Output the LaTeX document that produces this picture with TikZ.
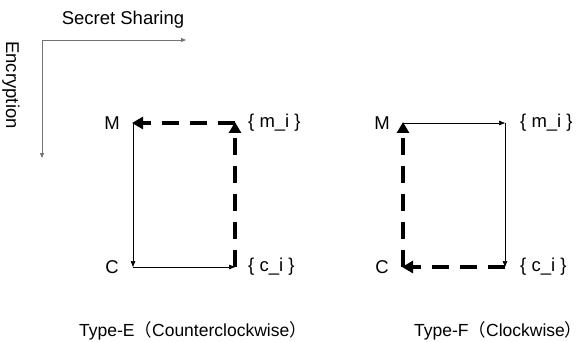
\documentclass[tikz,border=0pt]{standalone}
\usepackage{fontspec}
\setmainfont{Liberation Sans}
\newfontfamily\cjkfont{Noto Sans CJK SC}
\usetikzlibrary{arrows.meta}
% full-width parentheses; the closing one keeps only the width of its glyph
\newcommand{\fwopen}{{\cjkfont （}}
\newcommand{\fwclose}{\makebox[0.5em][l]{\cjkfont ）}}
\begin{document}
\begin{tikzpicture}[x=1pt,y=-1pt,
  lbl/.style={font=\fontsize{18.5}{21}\selectfont, inner sep=0pt},
  captext/.style={font=\fontsize{17.5}{21}\selectfont, inner sep=0pt},
  axis/.style={draw=gray!90!black, line width=0.8pt, -{Triangle[length=5pt,width=4pt]}},
  thinarrow/.style={draw=black, line width=0.7pt, -{Triangle[length=6pt,width=4.5pt]}},
  thickarrow/.style={draw=black, line width=3.5pt, dash pattern=on 17pt off 11pt,
    -{Triangle[length=11pt,width=12pt]}, shorten >=-1pt}]
\useasboundingbox (0,0) rectangle (586,342);

% axes
\coordinate (O) at (42,40);
\coordinate (Ax) at (186,40);
\coordinate (Ay) at (42,158);
\draw[axis] (O) -- (Ax);
\draw[axis] (O) -- (Ay);
\node[lbl] (ss) at (123,20) {Secret Sharing};
\node[lbl, rotate=-90] (enc) at (11,85) {Encryption};

% Type-E corners
\coordinate (EM) at (133,123);
\coordinate (Em) at (235,123);
\coordinate (EC) at (133,267);
\coordinate (Ec) at (235,267);
\node[lbl] (EMl) at (112,123) {M};
\node[lbl, anchor=west] (Eml) at (248,123) {\{ m\_i \}};
\node[lbl] (ECl) at (112,267) {C};
\node[lbl, anchor=west] (Ecl) at (248,267) {\{ c\_i \}};
\draw[thinarrow] (EM) -- (EC);
\draw[thinarrow] (EC) -- (Ec);
\draw[thickarrow] (Ec) -- (Em);
\draw[thickarrow] (Em) -- (EM);

% Type-F corners
\coordinate (FM) at (403,123);
\coordinate (Fm) at (505,123);
\coordinate (FC) at (403,267);
\coordinate (Fc) at (505,267);
\node[lbl] (FMl) at (382,123) {M};
\node[lbl, anchor=west] (Fml) at (520,123) {\{ m\_i \}};
\node[lbl] (FCl) at (382,267) {C};
\node[lbl, anchor=west] (Fcl) at (520,267) {\{ c\_i \}};
\draw[thinarrow] (FM) -- (Fm);
\draw[thinarrow] (Fm) -- (Fc);
\draw[thickarrow] (Fc) -- (FC);
\draw[thickarrow] (FC) -- (FM);

% captions
\node[captext, anchor=base west] (capE) at (79,336) {Type-E\fwopen Counterclockwise\fwclose};
\node[captext, anchor=base west] (capF) at (414,336) {Type-F\fwopen Clockwise\fwclose};
\end{tikzpicture}
\end{document}
